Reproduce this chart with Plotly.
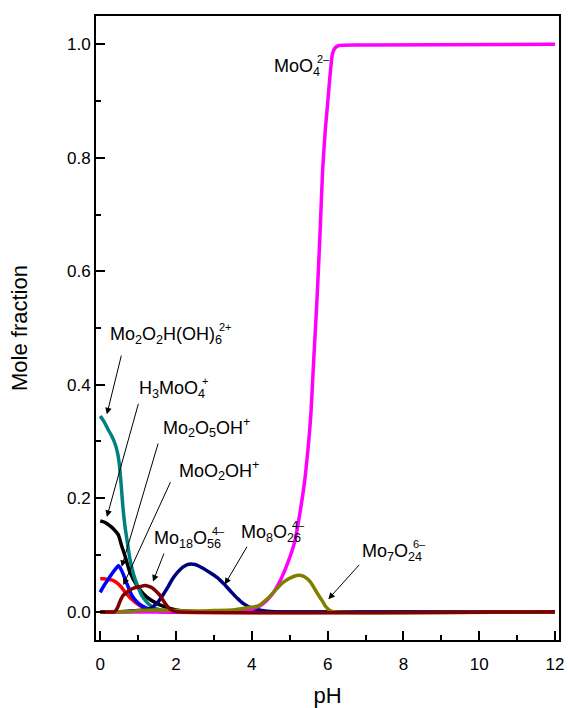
import plotly.graph_objects as go

# ---------------- data ----------------
ph_teal = [0, 0.1, 0.2, 0.3, 0.39, 0.45, 0.5, 0.55, 0.6, 0.65, 0.7, 0.78, 0.85, 0.91, 1.0, 1.09, 1.2, 1.3, 1.5, 1.8, 2.2, 12]
y_teal = [0.345, 0.335, 0.322, 0.310, 0.296, 0.282, 0.262, 0.225, 0.183, 0.152, 0.129, 0.094, 0.073, 0.059, 0.043, 0.029, 0.019, 0.012, 0.005, 0.001, 0, 0]

ph_black = [0, 0.1, 0.2, 0.3, 0.4, 0.48, 0.56, 0.65, 0.78, 0.96, 1.22, 1.57, 2.0, 2.5, 12]
y_black = [0.160, 0.158, 0.154, 0.149, 0.142, 0.135, 0.117, 0.099, 0.070, 0.047, 0.026, 0.012, 0.003, 0, 0]

ph_blue = [0, 0.1, 0.2, 0.3, 0.4, 0.48, 0.56, 0.63, 0.70, 0.83, 1.0, 1.22, 1.5, 2.0, 12]
y_blue = [0.034, 0.046, 0.056, 0.066, 0.075, 0.081, 0.073, 0.062, 0.050, 0.029, 0.015, 0.006, 0.002, 0, 0]

ph_red = [0, 0.1, 0.2, 0.3, 0.39, 0.52, 0.65, 0.83, 1.04, 1.3, 1.6, 12]
y_red = [0.058, 0.058, 0.057, 0.056, 0.053, 0.046, 0.035, 0.022, 0.011, 0.003, 0, 0]

ph_navy = [0, 0.5, 0.8, 1.0, 1.3, 1.5, 1.65, 1.8, 1.91, 2.05, 2.17, 2.3, 2.4, 2.5, 2.61, 2.87, 3.09, 3.26, 3.44, 3.61, 3.78, 4.0, 4.26, 4.6, 12]
y_navy = [0, 0, 0.001, 0.002, 0.005, 0.015, 0.029, 0.045, 0.058, 0.070, 0.078, 0.083, 0.084, 0.083, 0.080, 0.070, 0.060, 0.049, 0.036, 0.024, 0.014, 0.006, 0.002, 0, 0]

ph_olive = [0, 0.8, 1.0, 1.5, 2.0, 2.5, 3.0, 3.5, 3.9, 4.17, 4.43, 4.6, 4.78, 4.95, 5.1, 5.26, 5.4, 5.55, 5.65, 5.76, 5.87, 5.95, 6.04, 6.15, 12]
y_olive = [0, 0, 0.002, 0.003, 0.002, 0.001, 0.002, 0.003, 0.007, 0.010, 0.024, 0.036, 0.049, 0.057, 0.062, 0.064, 0.061, 0.052, 0.041, 0.029, 0.018, 0.009, 0.003, 0, 0]

ph_magenta = [0, 3.6, 3.9, 4.1, 4.26, 4.52, 4.78, 4.96, 5.13, 5.26, 5.39, 5.48, 5.56, 5.63, 5.72, 5.80, 5.87, 5.94, 6.0, 6.07, 6.13, 6.2, 6.3, 7.0, 12]
y_magenta = [0, 0, 0.003, 0.007, 0.012, 0.029, 0.059, 0.088, 0.123, 0.170, 0.228, 0.285, 0.350, 0.440, 0.550, 0.667, 0.780, 0.850, 0.895, 0.950, 0.984, 0.994, 0.998, 0.999, 1.0]

ph_darkred = [0, 0.38, 0.45, 0.52, 0.61, 0.7, 0.78, 0.9, 1.04, 1.17, 1.3, 1.39, 1.5, 1.57, 1.65, 1.74, 1.82, 1.91, 2.0, 12]
y_darkred = [0, 0, 0.006, 0.018, 0.029, 0.034, 0.038, 0.042, 0.044, 0.046, 0.044, 0.041, 0.034, 0.029, 0.021, 0.012, 0.006, 0.002, 0, 0]

series = [
    ("MoO2OH+", ph_red, y_red, "#FF0000"),
    ("Mo2O5OH+", ph_blue, y_blue, "#0000FF"),
    ("H3MoO4+", ph_black, y_black, "#000000"),
    ("Mo2O2H(OH)6 2+", ph_teal, y_teal, "#008080"),
    ("Mo8O26 4-", ph_navy, y_navy, "#000080"),
    ("MoO4 2-", ph_magenta, y_magenta, "#FF00FF"),
    ("Mo7O24 6-", ph_olive, y_olive, "#808000"),
    ("Mo18O56 4-", ph_darkred, y_darkred, "#800000"),
]

x_ticks = [0, 2, 4, 6, 8, 10, 12]
y_ticks = [0.0, 0.2, 0.4, 0.6, 0.8, 1.0]

FONT = "Liberation Sans, Arial, sans-serif"

fig = go.Figure()
for name, xs, ys, col in series:
    fig.add_trace(go.Scatter(x=xs, y=ys, mode="lines", name=name,
                             line=dict(color=col, width=3.5, shape="spline", smoothing=0.6),
                             showlegend=False))

ann = []

# stacked sub/superscript labels: main text (with inline subscripts) right-anchored
# at x_end; superscript placed above the last subscript.
def stacked(x_end, y, main, sup, sub_w):
    ann.append(dict(x=x_end, y=y, xref="x", yref="y", text=main, showarrow=False,
                    xanchor="right", yanchor="middle", font=dict(size=18, family=FONT, color="black")))
    ann.append(dict(x=x_end, y=y, xref="x", yref="y", text=sup, showarrow=False,
                    xanchor="left", yanchor="middle", xshift=-sub_w, yshift=8.5,
                    font=dict(size=11, family=FONT, color="black")))

def plain(x_left, y, text):
    ann.append(dict(x=x_left, y=y, xref="x", yref="y", text=text, showarrow=False,
                    xanchor="left", yanchor="middle", font=dict(size=18, family=FONT, color="black")))

def arrow(tail, tip):
    ann.append(dict(x=tip[0], y=tip[1], ax=tail[0], ay=tail[1], xref="x", yref="y",
                    axref="x", ayref="y", text="", showarrow=True, arrowhead=2,
                    arrowsize=1.3, arrowwidth=1, arrowcolor="black"))

stacked(3.26, 0.487, "Mo<sub>2</sub>O<sub>2</sub>H(OH)<sub>6</sub>", "2+", 7)
stacked(2.82, 0.392, "H<sub>3</sub>MoO<sub>4</sub>", "+", 7)
plain(1.60, 0.325, "Mo<sub>2</sub>O<sub>5</sub>OH<sup>+</sup>")
plain(2.03, 0.249, "MoO<sub>2</sub>OH<sup>+</sup>")
stacked(3.25, 0.127, "Mo<sub>18</sub>O<sub>56</sub>", "4–", 13)
stacked(5.36, 0.138, "Mo<sub>8</sub>O<sub>26</sub>", "4–", 13)
stacked(8.55, 0.105, "Mo<sub>7</sub>O<sub>24</sub>", "6–", 13)
stacked(5.85, 0.959, "MoO<sub>4</sub>", "2–", 7)

arrow((0.566, 0.454), (0.175, 0.348))
arrow((1.017, 0.369), (0.175, 0.167))
arrow((1.539, 0.299), (0.566, 0.079))
arrow((1.871, 0.231), (0.608, 0.047))
arrow((1.696, 0.105), (1.391, 0.053))
arrow((3.895, 0.117), (3.287, 0.048))
arrow((6.869, 0.085), (6.019, 0.022))

axis_common = dict(showgrid=False, zeroline=False, showline=True, linecolor="black",
                   linewidth=2, mirror=True, ticks="inside", tickcolor="black",
                   tickwidth=2, ticklen=9,
                   tickfont=dict(size=17, family=FONT, color="black"))

fig.update_layout(
    width=568, height=708,
    margin=dict(l=96, r=4, t=16, b=66),
    paper_bgcolor="white", plot_bgcolor="white",
    annotations=ann,
    xaxis=dict(range=[-0.112, 12.106], tickvals=x_ticks,
               ticktext=[str(v) for v in x_ticks],
               minor=dict(dtick=1, tick0=0, ticks="inside", ticklen=5, tickwidth=2, tickcolor="black"),
               ticklabelstandoff=8,
               title=dict(text="pH", font=dict(size=22, family=FONT, color="black"), standoff=14),
               **axis_common),
    yaxis=dict(range=[-0.05, 1.05], tickvals=y_ticks,
               ticktext=[f"{v:.1f}" for v in y_ticks],
               minor=dict(dtick=0.1, tick0=0, ticks="inside", ticklen=5, tickwidth=2, tickcolor="black"),
               title=dict(text="Mole fraction", font=dict(size=22, family=FONT, color="black"), standoff=33),
               **axis_common),
)

fig.write_html("out.html")
